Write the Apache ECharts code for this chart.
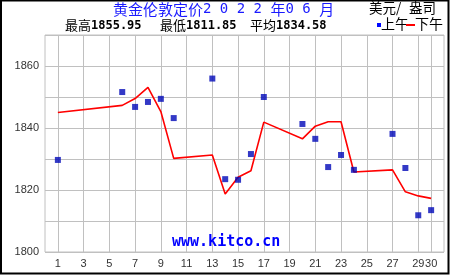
<!DOCTYPE html>
<html><head><meta charset="utf-8">
<script src="https://cdn.jsdelivr.net/npm/echarts@6/dist/echarts.min.js"></script>
<style>html,body{margin:0;padding:0;background:#fff}#c{width:450px;height:275px}</style>
</head><body><div id="c"></div>
<script>
var days = [1,6,7,8,9,10,13,14,15,16,17,20,21,22,23,24,27,28,29,30];
var amValues = [1829.7,1851.6,1846.8,1848.4,1849.4,1843.2,1855.95,1823.5,1823.3,1831.6,1850.0,1841.3,1836.5,1827.4,1831.3,1826.5,1838.1,1827.1,1811.85,1813.5];
var pmValues = [1845.0,1847.3,1849.5,1853.1,1845.3,1830.2,1831.3,1818.7,1824.1,1826.2,1841.9,1836.5,1840.6,1842.0,1842.0,1825.8,1826.5,1819.4,1818.1,1817.3];
var xTickLabels = [1,3,5,7,9,11,13,15,17,19,21,23,25,27,29,30];
var yTickLabels = [1800,1820,1840,1860];
var xCategories = [];
for (var i = 0; i <= 31; i++) xCategories.push(String(i));
var titleParts = ['黄金伦敦定价','2 0 2 2 ','年','0 6 ','月'];
var unitParts = ['美元/',' ','盎司'];
var statsNames = ['最高','最低','平均'];
var statsValues = ['1855.95','1811.85','1834.58'];
var legendNames = ['上午','下午'];
var watermark = 'www.kitco.cn';

var chart = echarts.init(document.getElementById('c'), null, {renderer:'canvas'});
function showX(idx, val){ return xTickLabels.indexOf(+val) >= 0; }
var amData = days.map(function(d,i){return [d, amValues[i]];});
var pmData = days.map(function(d,i){return [d, pmValues[i]];});
var mono = '"DejaVu Sans Mono", monospace';
var cjk = '"Noto Sans CJK SC", sans-serif';
var statX = [65,160,250];
var graphics = [
  {type:'rect', shape:{x:1, y:0.5, width:447.5, height:273}, style:{fill:'none', stroke:'#000', lineWidth:2}, z:100},
  {type:'text', x:113, y:2, z:100, style:{
    rich:{c:{font:'15px '+cjk, fill:'#1a1aff'}, d:{font:'14px '+mono, fill:'#1a1aff'}},
    text:'{c|'+titleParts[0]+'}{d|'+titleParts[1]+'}{c|'+titleParts[2]+'}{d|'+titleParts[3]+'}{c|'+titleParts[4]+'}'}},
  {type:'text', x:369, y:1, z:100, style:{
    rich:{a:{font:'13.5px '+cjk, fill:'#000'}, s:{font:'13px '+mono, fill:'#000'}},
    text:'{a|'+unitParts[0]+'}{s|'+unitParts[1]+'}{a|'+unitParts[2]+'}'}},
  {type:'rect', shape:{x:377, y:23, width:4, height:4}, style:{fill:'#0008ff'}, z:100},
  {type:'text', x:381, y:17, style:{text:legendNames[0], font:'14px '+cjk, fill:'#000'}, z:100},
  {type:'rect', shape:{x:406, y:24, width:9, height:2}, style:{fill:'#ff0000'}, z:100},
  {type:'text', x:415, y:17, style:{text:legendNames[1], font:'14px '+cjk, fill:'#000'}, z:100},
  {type:'text', x:172, y:235, style:{text:watermark, font:'bold 15px '+mono, fill:'#0000ff'}, z:100}
];
for (var k = 0; k < 3; k++) {
  graphics.push({type:'text', x:statX[k], y:19, z:100, style:{
    rich:{a:{font:'13px '+cjk, fill:'#000'}, b:{font:'bold 12px '+mono, fill:'#000'}},
    text:'{a|'+statsNames[k]+'}{b|'+statsValues[k]+'}'}});
}
chart.setOption({
  animation:false,
  backgroundColor:'#fff',
  grid:{left:45, top:35, right:6, bottom:23, show:true, borderColor:'#c0c0c0', borderWidth:1, backgroundColor:'#fff'},
  xAxis:{type:'category', data:xCategories, boundaryGap:false,
    axisLine:{show:false}, axisTick:{show:false},
    axisLabel:{interval:showX, color:'#333', fontFamily:'"Liberation Sans", sans-serif', fontSize:11, margin:6},
    splitLine:{show:true, interval:showX, lineStyle:{color:'#c0c0c0', width:1}}},
  yAxis:{type:'value', min:1800, max:1870, interval:10,
    axisLine:{show:false}, axisTick:{show:false},
    axisLabel:{color:'#333', fontFamily:'"Liberation Sans", sans-serif', fontSize:11, margin:6,
      formatter:function(v){return yTickLabels.indexOf(v)>=0 ? String(v) : '';}},
    splitLine:{show:true, lineStyle:{color:'#c0c0c0', width:1}}},
  series:[
    {name:legendNames[1], type:'line', data:pmData, symbol:'none', z:2,
      lineStyle:{color:'#ff0000', width:1.6}},
    {name:legendNames[0], type:'scatter', data:amData, symbol:'rect', symbolSize:6, z:3,
      itemStyle:{color:'#0008b8'}}
  ],
  graphic:graphics
});
</script></body></html>
